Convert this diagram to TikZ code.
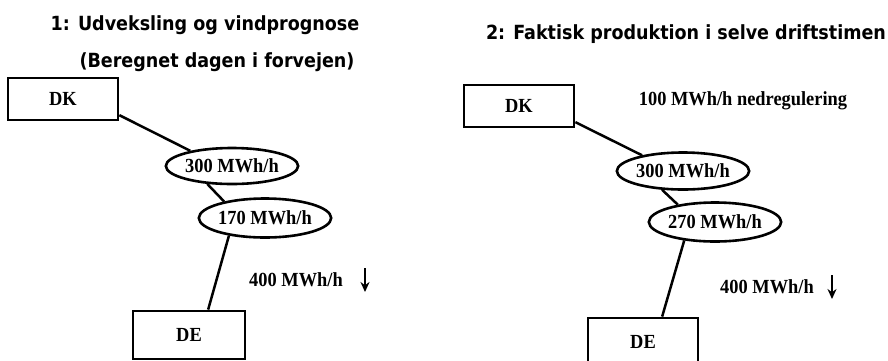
\documentclass[tikz,border=0pt]{standalone}
\usepackage{fontspec}
\setmainfont{Liberation Serif}[FakeStretch=0.92]
\newfontfamily\titlefont{DejaVu Sans Condensed}
\usetikzlibrary{shapes.geometric,arrows.meta}

\tikzset{
  country/.style={draw, line width=2.8pt, rectangle, inner sep=0pt,
    minimum width=110pt, minimum height=42pt, font=\bfseries\fontsize{20}{20}\selectfont},
  flow/.style={draw, line width=2.6pt, ellipse, inner sep=0pt,
    font=\bfseries\fontsize{20}{20}\selectfont},
  heading/.style={inner sep=0pt, font=\titlefont\bfseries\fontsize{19.5}{19.5}\selectfont},
  note/.style={inner sep=0pt, font=\bfseries\fontsize{20}{20}\selectfont},
  link/.style={line width=2.5pt},
  down/.style={line width=2.8pt, -{Stealth[length=10pt,width=9pt]}}
}

\begin{document}
\begin{tikzpicture}[x=1pt, y=-1pt]
\useasboundingbox (0,0) rectangle (888,360);

% ---- scenario 1: day-ahead exchange and wind forecast ----
\node[heading] (h1a) at (205,25) {1: Udveksling og vindprognose};
\node[heading] (h1b) at (217,62) {(Beregnet dagen i forvejen)};

\node[country] (dk1) at (63,99) {DK};
\node[flow, minimum width=115pt, minimum height=36pt] (a300) at (232,166) {300 MWh/h};
\node[flow, minimum width=124pt, minimum height=39pt] (a170) at (265,218) {170 MWh/h};
\node[country, minimum width=112pt, minimum height=48pt] (de1) at (189,335) {DE};

\draw[link] (dk1.-16) -- (a300.160);
\draw[link] (a300.216) -- (a170.158);
\draw[link] (a170.206) -- (de1.53);

\node[note] (w1) at (296,280) {400 MWh/h};
\coordinate (w1top) at (365,268);
\coordinate (w1bot) at (365,292);
\draw[down] (w1top) -- (w1bot);

% ---- scenario 2: actual production in the operating hour ----
\node[heading] (h2) at (686,34) {2: Faktisk produktion i selve driftstimen};

\node[country] (dk2) at (519,106) {DK};
\node[note] (reg) at (743,101) {100 MWh/h nedregulering};
\node[flow, minimum width=117pt, minimum height=37pt] (b300) at (683,171) {300 MWh/h};
\node[flow, minimum width=120pt, minimum height=39pt] (b270) at (715,222) {270 MWh/h};
\node[country, minimum width=110pt, minimum height=48pt] (de2) at (643,342) {DE};

\draw[link] (dk2.-16) -- (b300.159);
\draw[link] (b300.222) -- (b270.155);
\draw[link] (b270.211) -- (de2.53);

\node[note] (w2) at (767,287) {400 MWh/h};
\coordinate (w2top) at (832,275);
\coordinate (w2bot) at (832,299);
\draw[down] (w2top) -- (w2bot);
\end{tikzpicture}
\end{document}
